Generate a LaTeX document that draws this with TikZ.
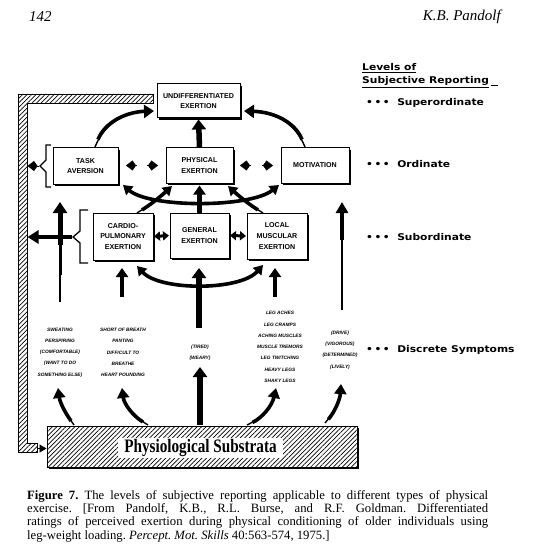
\documentclass[tikz,border=0pt]{standalone}
\usepackage{fontspec}
\setmainfont{Liberation Serif}
\newfontfamily\boxfont{Liberation Sans}
\newfontfamily\lblfont[FakeStretch=1.15]{DejaVu Sans}
\newfontfamily\subsfont[FakeStretch=0.8]{Liberation Serif}
\usetikzlibrary{arrows.meta,patterns,patterns.meta,shadows,calc}
\newcommand\tcurve[6]{%
  \draw[line width=1.4pt, shorten >=5pt] (#1) .. controls (#2) and (#3) .. (#4);
  \draw[line width=3.6pt, shorten <=#5, -{#6}] (#1) .. controls (#2) and (#3) .. (#4);}
\begin{document}
\begin{tikzpicture}[x=1pt,y=-1pt,
  bx/.style={draw, line width=1pt, fill=white, align=center, inner sep=1pt,
    font=\boxfont\bfseries\fontsize{7.1}{10.8}\selectfont,
    drop shadow={shadow xshift=1.8pt, shadow yshift=-1.8pt, fill=black, opacity=1}},
  bigarrow/.style={line width=5.5pt, -{Triangle[length=10pt,width=14pt]}},
  midarrow/.style={line width=4.5pt, -{Triangle[length=9pt,width=12pt]}},
  kitetip/.style={line width=0.5pt, -{Kite[length=10pt,width=10pt,inset=3.5pt]}},
  dbl/.style={line width=3.6pt, {Triangle[length=9pt,width=11pt]}-{Triangle[length=9pt,width=11pt]}},
  sym/.style={align=center, inner sep=0pt, font=\boxfont\bfseries\itshape\fontsize{4.8}{11.3}\selectfont},
  lvl/.style={anchor=west, inner sep=0pt, font=\lblfont\bfseries\fontsize{9.3}{13}\selectfont},
  hatch/.style={pattern={Lines[angle=45,distance=3.2pt,line width=0.7pt]}}
]
\useasboundingbox (0,0) rectangle (532,556);

% header
\node[anchor=west, inner sep=0pt, font=\itshape\fontsize{15}{15}\selectfont] (pg) at (29,17) {142};
\node[anchor=east, inner sep=0pt, font=\itshape\fontsize{15}{15}\selectfont] (auth) at (501,17) {K.B. Pandolf};

% hatched feedback bar
\draw[line width=0.8pt, hatch] (153,94) -- (18,94) -- (18,452) -- (37,452) -- (37,443) -- (27,443) -- (27,103) -- (153,103) -- cycle;

% substrata
\node[draw, line width=1pt, minimum width=310pt, minimum height=41pt,
  drop shadow={shadow xshift=2.2pt, shadow yshift=-2.2pt, fill=black, opacity=1},
  preaction={fill=white}, hatch] (subs) at (202,446.5) {};
\node[fill=white, inner sep=0pt, minimum width=165pt, minimum height=20pt,
  font=\subsfont\bfseries\fontsize{19}{19}\selectfont] (substx) at (200.5,448) {Physiological Substrata};
\coordinate (barend) at (37,448.5);
\draw[line width=0.8pt, -{Triangle[length=7pt,width=8pt]}] (barend) -- (subs.west |- barend);

% boxes
\node[bx, minimum width=83pt, minimum height=34pt] (und) at (198.5,101) {UNDIFFERENTIATED\\EXERTION};
\node[bx, minimum width=65pt, minimum height=36pt] (task) at (85.5,166) {TASK\\AVERSION};
\node[bx, minimum width=67pt, minimum height=35pt] (phys) at (199.5,165.5) {PHYSICAL\\EXERTION};
\node[bx, minimum width=68pt, minimum height=35pt] (mot) at (315,165.5) {MOTIVATION};
\node[bx, minimum width=60pt, minimum height=47pt] (cardio) at (123,236.5) {CARDIO-\\PULMONARY\\EXERTION};
\node[bx, minimum width=59pt, minimum height=45pt] (gen) at (199.5,235.5) {GENERAL\\EXERTION};
\node[bx, minimum width=60pt, minimum height=46pt] (local) at (277,236) {LOCAL\\MUSCULAR\\EXERTION};

% ordinate -> superordinate
\draw[bigarrow, shorten >=1pt] (phys.north) -- (und.south);
\coordinate (ta1) at (95,147); \coordinate (ta2) at (154,111);
\tcurve{ta1}{105,122}{126,112}{ta2}{8pt}{Triangle[length=10pt,width=13pt]}
\coordinate (tm1) at (305,147); \coordinate (tm2) at (244,111);
\tcurve{tm1}{295,122}{274,112}{tm2}{8pt}{Triangle[length=10pt,width=13pt]}

% ordinate double heads
\draw[kitetip] (137,165.5) -- (126,165.5);
\draw[kitetip] (147,165.5) -- (158,165.5);
\draw[kitetip] (251,165.5) -- (240,165.5);
\draw[kitetip] (262,165.5) -- (273,165.5);

% subordinate -> ordinate
\draw[midarrow, shorten >=2pt] (gen.north) -- (phys.south);
\coordinate (cp1) at (137,213); \coordinate (cp2) at (172,186);
\tcurve{cp1}{150,205}{160,197}{cp2}{6pt}{Triangle[length=9pt,width=11pt]}
\coordinate (lp1) at (263,213); \coordinate (lp2) at (228,186);
\tcurve{lp1}{250,205}{240,197}{lp2}{6pt}{Triangle[length=9pt,width=11pt]}
\coordinate (tk1) at (123,185); \coordinate (mo1) at (279,185);
\draw[dbl] (tk1) .. controls (150,208) and (250,208) .. (mo1);

% subordinate double arrows
\draw[line width=3pt, shorten <=0.5pt, shorten >=0.5pt, {Triangle[length=6pt,width=9pt]}-{Triangle[length=6pt,width=9pt]}] (cardio.east) -- (gen.west);
\draw[line width=3pt, shorten <=0.5pt, shorten >=0.5pt, {Triangle[length=6pt,width=9pt]}-{Triangle[length=6pt,width=9pt]}] (gen.east) -- (local.west);

% brackets
\draw[line width=1.3pt] (51,145) -- (46,145) -- (46,160) -- (40,166) -- (46,172) -- (46,187) -- (51,187);
\coordinate (tb) at (39,166); \coordinate (tbb) at (27.5,166);
\draw[kitetip] (tb) -- (tbb);
\draw[line width=1.3pt] (88,210) -- (80,210) -- (80,231) -- (73,237) -- (80,243) -- (80,263) -- (88,263);
\coordinate (sb) at (72,237); \coordinate (sbb) at (27.5,237);
\draw[line width=4.5pt, -{Triangle[length=11pt,width=13pt]}] (sb) -- (sbb);

% long vertical arrows
\coordinate (lvb) at (60,302); \coordinate (lvt) at (60,202);
\draw[line width=1.4pt] (lvb) -- (60,212);
\draw[line width=3pt] (60,275) -- (60,212);
\draw[line width=5pt, -{Triangle[length=11pt,width=14pt]}] (60,245) -- (lvt);
\coordinate (rvb) at (342,310); \coordinate (rvt) at (342,202);
\draw[line width=1.2pt] (rvb) -- (342,212);
\draw[line width=2.5pt] (342,270) -- (342,212);
\draw[line width=3.8pt, -{Triangle[length=11pt,width=12pt]}] (342,240) -- (rvt);

% discrete -> subordinate
\coordinate (c1b) at (122,297); \coordinate (c1t) at (122,268);
\draw[midarrow] (c1b) -- (c1t);
\coordinate (l1b) at (275,297); \coordinate (l1t) at (275,268);
\draw[midarrow] (l1b) -- (l1t);
\coordinate (g1b) at (199,328); \coordinate (g1t) at (199,268);
\draw[bigarrow] (g1b) -- (g1t);
\coordinate (ca) at (137,266); \coordinate (la) at (263,265);
\draw[dbl] (ca) .. controls (160,291) and (240,291) .. (la);

% symptoms
\node[sym] (s1) at (60,352.5) {SWEATING\\PERSPIRING\\(COMFORTABLE)\\(WANT TO DO\\SOMETHING ELSE)};
\node[sym] (s2) at (123,352.5) {SHORT OF BREATH\\PANTING\\DIFFICULT TO\\BREATHE\\HEART POUNDING};
\node[sym] (s3) at (200,352.5) {(TIRED)\\(WEARY)};
\node[sym] (s4) at (280,347) {LEG ACHES\\LEG CRAMPS\\ACHING MUSCLES\\MUSCLE TREMORS\\LEG TWITCHING\\HEAVY LEGS\\SHAKY LEGS};
\node[sym] (s5) at (340,350) {(DRIVE)\\(VIGOROUS)\\(DETERMINED)\\(LIVELY)};

% substrata -> symptoms
\coordinate (b1s) at (74,425); \coordinate (b1e) at (58,388);
\tcurve{b1s}{66,414}{60,403}{b1e}{5pt}{Triangle[length=10pt,width=12pt]}
\coordinate (b2s) at (148,425); \coordinate (b2e) at (122,388);
\tcurve{b2s}{133,416}{124,404}{b2e}{6pt}{Triangle[length=10pt,width=12pt]}
\coordinate (b3s) at (200,425); \coordinate (b3e) at (200,367);
\draw[bigarrow] (b3s) -- (b3e);
\coordinate (b4s) at (247,425); \coordinate (b4e) at (276,388);
\tcurve{b4s}{262,418}{272,406}{b4e}{6pt}{Triangle[length=10pt,width=12pt]}
\coordinate (b5s) at (325,423); \coordinate (b5e) at (341,384);
\tcurve{b5s}{334,413}{340,400}{b5e}{5pt}{Triangle[length=10pt,width=12pt]}

% level labels
\node[lvl] (lv1) at (362,68) {\underline{Levels of}};
\node[lvl] (lv2) at (362,82) {\underline{Subjective Reporting}\,\underline{\ \ }};
\node[lvl] (lsup) at (366,103) {•\,•\,•\ \ Superordinate};
\node[lvl] (lord) at (366,164) {•\,•\,•\ \ Ordinate};
\node[lvl] (lsub) at (366,237) {•\,•\,•\ \ Subordinate};
\node[lvl] (ldis) at (366,350) {•\,•\,•\ \ Discrete Symptoms};

% caption
\node[anchor=north west, inner sep=0pt, align=left, font=\frenchspacing\fontsize{12.7}{13.3}\selectfont] (cap) at (27,490) {%
\makebox[461pt][s]{\textbf{Figure 7.} The levels of subjective reporting applicable to different types of physical}\\
\makebox[461pt][s]{exercise. [From Pandolf, K.B., R.L. Burse, and R.F. Goldman. Differentiated}\\
\makebox[461pt][s]{ratings of perceived exertion during physical conditioning of older individuals using}\\
leg-weight loading. \textit{Percept. Mot. Skills} 40:563-574, 1975.]};
\end{tikzpicture}
\end{document}
